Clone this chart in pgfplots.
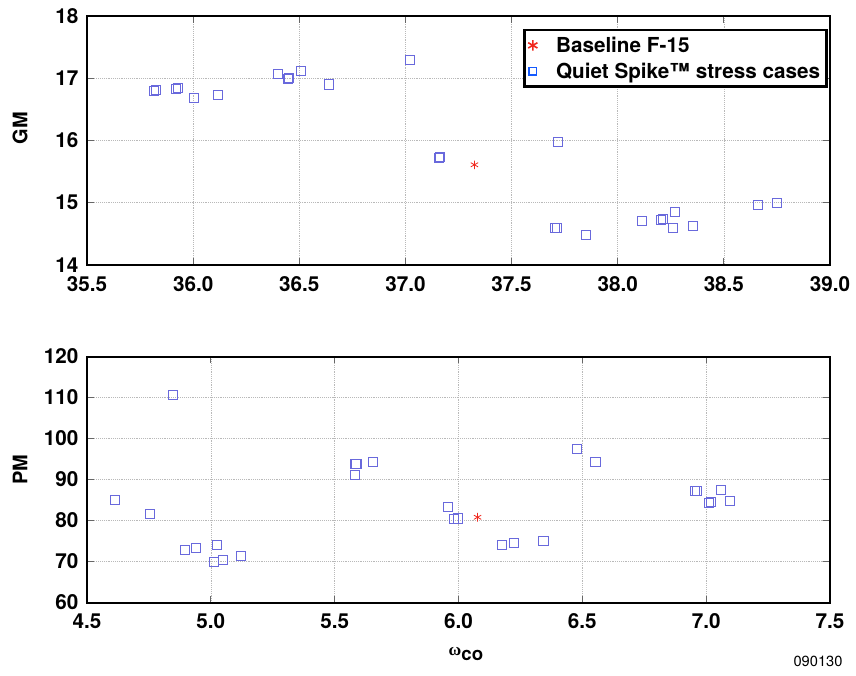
\documentclass[border=0pt]{standalone}
\usepackage{pgfplots}
\pgfplotsset{compat=1.18}
\usepackage{fontspec}
\setmainfont{TeX Gyre Heros}
\newfontfamily\serifgreek{Liberation Serif}
\definecolor{qsblue}{RGB}{105,105,220}
\definecolor{legblue}{RGB}{20,90,255}
\definecolor{bred}{RGB}{240,40,30}
\begin{document}
\begin{tikzpicture}
\path[use as bounding box] (-65.25pt,12pt) rectangle (576.75pt,-494.25pt);
\pgfplotsset{
  myaxis/.style={
    scale only axis,
    width=557.25pt,
    axis line style={line width=1.5pt},
    grid=major,
    major grid style={densely dotted, gray!55, line width=0.5pt},
    tick style={gray!80!black, line width=0.8pt},
    major tick length=5pt,
    tick pos=both,
    tick align=inside,
    /pgf/number format/assume math mode=true,
    ticklabel style={font=\fontsize{15.5}{17}\selectfont\bfseries},
    xticklabel style={yshift=-5pt},
    yticklabel style={xshift=-3pt},
    label style={font=\fontsize{15}{17}\selectfont\bfseries},
  }
}
\begin{axis}[myaxis,
  at={(0,0)}, anchor=north west,
  height=186.75pt,
  xmin=35.5, xmax=39.0, ymin=14, ymax=18,
  xtick={35.5,36,36.5,37,37.5,38,38.5,39},
  ytick={14,15,16,17,18},
  xticklabel style={/pgf/number format/.cd,fixed,fixed zerofill,precision=1},
  ylabel={GM},
  ylabel style={at={(axis description cs:-0.09,0.55)}, anchor=center},
  legend cell align=left,
  legend image post style={xshift=6.5pt},
  legend style={at={(axis description cs:1,1)}, anchor=north east, xshift=-1.5pt, yshift=-9.5pt,
    font=\fontsize{15.5}{17}\selectfont\bfseries, draw=black, line width=2pt,
    inner xsep=3pt, inner ysep=3pt, row sep=2.5pt, column sep=12pt},
]
\addlegendimage{only marks, mark=asterisk, mark size=4pt, color=bred, line width=1.2pt}
\addlegendimage{only marks, mark=square, mark size=2.8pt, color=legblue, line width=1.2pt}
\addplot[only marks, mark=square, mark size=3.4pt, color=qsblue, line width=0.7pt, forget plot] coordinates {
(35.815,16.80) (35.825,16.81) (35.92,16.83) (35.93,16.84) (36.006,16.69) (36.116,16.73)
(36.40,17.07) (36.447,16.99) (36.453,17.01) (36.51,17.11) (36.64,16.90) (37.02,17.29)
(37.158,15.72) (37.162,15.73) (37.72,15.98) (37.705,14.60) (37.715,14.60) (37.85,14.48)
(38.116,14.71) (38.205,14.73) (38.212,14.74) (38.27,14.85) (38.26,14.60) (38.356,14.62)
(38.66,14.96) (38.75,14.99)
};
\addplot[only marks, mark=asterisk, mark size=3.2pt, color=bred, line width=0.6pt, forget plot] coordinates {(37.325,15.61)};
\legend{Baseline F-15, Quiet Spike™ stress cases}
\end{axis}
\begin{axis}[myaxis,
  name=bot,
  at={(0,-255.4pt)}, anchor=north west,
  height=184.5pt,
  xmin=4.5, xmax=7.5, ymin=60, ymax=120,
  xtick={4.5,5,5.5,6,6.5,7,7.5},
  ytick={60,70,80,90,100,110,120},
  xticklabel style={/pgf/number format/.cd,fixed,fixed zerofill,precision=1},
  ylabel={PM},
  ylabel style={at={(axis description cs:-0.09,0.54)}, anchor=center},
  xlabel={{\fontsize{13}{15}\selectfont\serifgreek ω}\raisebox{-0.5ex}{\fontsize{14}{16}\selectfont\bfseries co}},
  xlabel style={at={(axis description cs:0.51,-0.21)}, anchor=center},
]
\addplot[only marks, mark=square, mark size=3.4pt, color=qsblue, line width=0.7pt] coordinates {
(4.847,110.7) (4.614,85.0) (4.753,81.5) (4.895,72.8) (4.94,73.4) (5.024,74.1)
(5.011,69.9) (5.05,70.4) (5.122,71.25) (5.584,93.7) (5.588,93.9) (5.582,91.1)
(5.653,94.2) (5.959,83.25) (5.982,80.3) (5.996,80.5) (6.175,74.1) (6.224,74.5)
(6.343,75.1) (6.478,97.5) (6.553,94.2) (6.955,87.1) (6.962,87.2) (7.012,84.4)
(7.018,84.5) (7.058,87.5) (7.097,84.8)
};
\addplot[only marks, mark=asterisk, mark size=3.2pt, color=bred, line width=0.6pt] coordinates {(6.077,80.8)};
\end{axis}
\node[font=\fontsize{11}{13}\selectfont, anchor=center] at ([xshift=-9pt,yshift=-44pt]bot.south east) {090130};
\end{tikzpicture}
\end{document}
